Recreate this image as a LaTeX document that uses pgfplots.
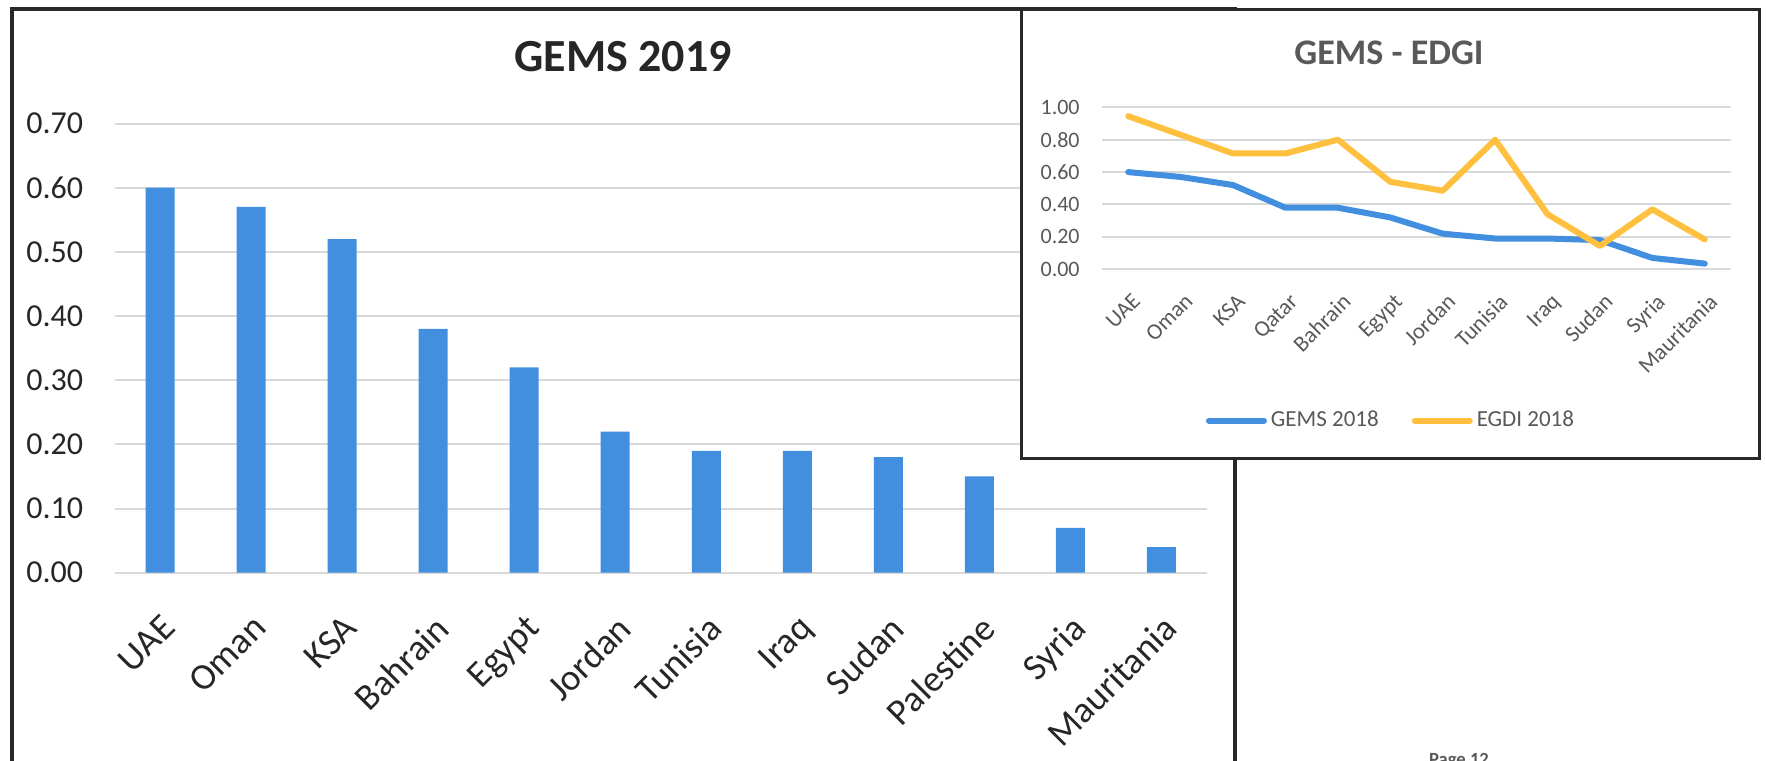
\documentclass[border=0pt]{standalone}
\usepackage{fontspec}
\setmainfont{Carlito}
\usepackage{pgfplots}
\pgfplotsset{compat=1.18}
\definecolor{barblue}{RGB}{65,143,222}
\definecolor{gold}{RGB}{255,192,64}
\definecolor{gridgray}{RGB}{217,217,217}
\definecolor{txtdark}{RGB}{38,38,38}
\definecolor{txtgray}{RGB}{89,89,89}
\definecolor{framecol}{RGB}{40,40,40}
\begin{document}
\begin{tikzpicture}
\useasboundingbox (0,0) rectangle (883pt,380pt);
% ---------------- main chart ----------------
\begin{axis}[
  scale only axis, width=546.25pt, height=224.6pt,
  at={(57.25pt,93.65pt)}, anchor=south west,
  xmin=-0.5, xmax=11.5, ymin=0, ymax=0.7,
  xtick={0,1,2,3,4,5,6,7,8,9,10,11},
  xticklabels={UAE,Oman,KSA,Bahrain,Egypt,Jordan,Tunisia,Iraq,Sudan,Palestine,Syria,Mauritania},
  ytick={0,0.1,0.2,0.3,0.4,0.5,0.6,0.7},
  /pgf/number format/assume math mode=true,
  yticklabel={\pgfmathprintnumber[fixed,fixed zerofill,precision=2]{\tick}},
  axis line style={draw=none}, major tick length=0pt,
  ymajorgrids, grid style={gridgray, line width=1pt},
  yticklabel style={inner sep=0pt, anchor=east, xshift=-15.5pt, text=txtdark, font=\fontsize{16}{19}\selectfont},
  xticklabel style={inner sep=0pt, xshift=0pt, yshift=-20pt, rotate=45, anchor=north east, text=txtdark, font=\fontsize{18.5}{21}\selectfont},
]
\addplot[ybar, bar width=14.5pt, fill=barblue, draw=none] coordinates {
(0,0.60) (1,0.57) (2,0.52) (3,0.38) (4,0.32) (5,0.22) (6,0.19) (7,0.19) (8,0.18) (9,0.15) (10,0.07) (11,0.04)};
\end{axis}
\node[anchor=base, text=txtdark, font=\bfseries\fontsize{23}{27}\selectfont] at (311.5pt,344.2pt) {GEMS 2019};
\draw[framecol, line width=2pt] (6pt,-20pt) -- (6pt,375.5pt) -- (617.5pt,375.5pt) -- (617.5pt,-20pt);
\node[anchor=base, text=txtgray, font=\bfseries\fontsize{9.3}{11}\selectfont] at (729.5pt,-2.5pt) {Page 12};
% ---------------- inset ----------------
\filldraw[fill=white, draw=framecol, line width=1.5pt] (510.5pt,150.5pt) rectangle (879.5pt,375.25pt);
\node[anchor=base, text=txtgray, font=\bfseries\fontsize{18}{21}\selectfont] at (694.5pt,347.5pt) {GEMS - EDGI};
\begin{axis}[
  scale only axis, width=314.5pt, height=81pt,
  at={(551pt,245.35pt)}, anchor=south west,
  xmin=-0.5, xmax=11.5, ymin=0, ymax=1.0,
  xtick={0,1,2,3,4,5,6,7,8,9,10,11},
  xticklabels={UAE,Oman,KSA,Qatar,Bahrain,Egypt,Jordan,Tunisia,Iraq,Sudan,Syria,Mauritania},
  ytick={0,0.2,0.4,0.6,0.8,1.0},
  /pgf/number format/assume math mode=true,
  yticklabel={\pgfmathprintnumber[fixed,fixed zerofill,precision=2]{\tick}},
  axis line style={draw=none}, major tick length=0pt,
  ymajorgrids, grid style={gridgray, line width=1pt},
  yticklabel style={inner sep=0pt, anchor=east, xshift=-11pt, text=txtgray, font=\fontsize{11}{13}\selectfont},
  xticklabel style={inner sep=0pt, xshift=1.5pt, yshift=-11.3pt, rotate=45, anchor=north east, text=txtgray, font=\fontsize{11.3}{13}\selectfont},
  legend style={at={(0.461,-0.934)}, anchor=center, draw=none, fill=none, legend columns=2,
    font=\fontsize{11.5}{13}\selectfont, text=txtgray,
    /tikz/every even column/.append style={column sep=14.5pt}},
  legend image code/.code={\draw[#1, line cap=round] (0pt,0pt) -- (27.5pt,0pt);},
  clip=false,
]
\addplot[barblue, line width=3pt, line join=round, line cap=round] coordinates {
(0,0.60) (1,0.57) (2,0.52) (3,0.38) (4,0.38) (5,0.32) (6,0.22) (7,0.19) (8,0.19) (9,0.18) (10,0.07) (11,0.035)};
\addlegendentry{GEMS 2018}
\addplot[gold, line width=3pt, line join=round, line cap=round] coordinates {
(0,0.945) (1,0.83) (2,0.715) (3,0.715) (4,0.80) (5,0.54) (6,0.485) (7,0.80) (8,0.34) (9,0.144) (10,0.37) (11,0.184)};
\addlegendentry{EGDI 2018}
\end{axis}
\end{tikzpicture}
\end{document}
